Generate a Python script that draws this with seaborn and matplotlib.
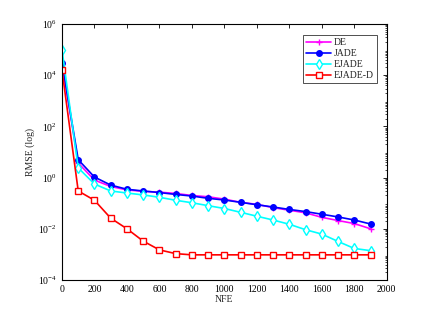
import numpy as np
import pandas as pd
import matplotlib
matplotlib.use("Agg")
import matplotlib.pyplot as plt
import seaborn as sns
from matplotlib.ticker import LogLocator, NullFormatter, FixedLocator

nfe = [0, 100, 200, 300, 400, 500, 600, 700, 800, 900, 1000, 1100, 1200, 1300, 1400, 1500, 1600, 1700, 1800, 1900]
de = [3.0e4, 3.7, 0.8, 0.45, 0.33, 0.29, 0.27, 0.24, 0.20, 0.178, 0.144, 0.108, 0.09, 0.067, 0.053, 0.042, 0.028, 0.021, 0.016, 0.010]
jade = [3.0e4, 5.0, 1.05, 0.51, 0.35, 0.30, 0.26, 0.22, 0.19, 0.155, 0.133, 0.108, 0.087, 0.071, 0.057, 0.047, 0.037, 0.029, 0.022, 0.0154]
ejade = [1.0e5, 2.4, 0.56, 0.30, 0.25, 0.21, 0.17, 0.13, 0.104, 0.08, 0.062, 0.044, 0.031, 0.022, 0.015, 0.0092, 0.0062, 0.0032, 0.0017, 0.0014]
ejaded = [1.6e4, 0.30, 0.13, 0.026, 0.010, 0.0033, 0.0015, 0.00107, 0.00096, 0.00096, 0.00096, 0.00096, 0.00096, 0.00096, 0.00096, 0.00096, 0.00096, 0.00096, 0.00096, 0.00096]
names = ["DE", "JADE", "EJADE", "EJADE-D"]
xticks = [0, 200, 400, 600, 800, 1000, 1200, 1400, 1600, 1800, 2000]

sns.set_style("white")
plt.rcParams["font.family"] = ["Liberation Serif", "DejaVu Serif"]
plt.rcParams["mathtext.fontset"] = "stix"

fig = plt.figure(figsize=(4.26, 3.10), dpi=100)
ax = fig.add_axes([0.1455, 0.0968, 0.7625, 0.8258])

styles = [
    dict(color="#ff00ff", marker="+", mfc="#ff00ff", ms=5, mew=1.0),
    dict(color="#0000ff", marker="o", mfc="#0000ff", ms=4, mew=1.0),
    dict(color="#00ffff", marker="d", mfc="white", ms=5, mew=1.0),
    dict(color="#ff0000", marker="s", mfc="white", ms=4, mew=1.0),
]
for name, vals, st in zip(names, [de, jade, ejade, ejaded], styles):
    df = pd.DataFrame({"NFE": nfe, "RMSE": vals})
    sns.lineplot(data=df, x="NFE", y="RMSE", ax=ax, color=st["color"], marker=st["marker"],
                 markerfacecolor=st["mfc"], markeredgecolor=st["color"], markersize=st["ms"],
                 markeredgewidth=st["mew"], linewidth=1.2, label=name)

ax.set_yscale("log")
ax.set_xlim(0, 2000)
ax.set_ylim(1e-4, 1e6)
ax.xaxis.set_major_locator(FixedLocator(xticks))
ax.yaxis.set_major_locator(FixedLocator([1e-4, 1e-2, 1e0, 1e2, 1e4, 1e6]))
ax.yaxis.set_minor_locator(LogLocator(base=10, subs=np.arange(2, 10), numticks=20))
ax.yaxis.set_minor_formatter(NullFormatter())
ax.tick_params(axis="both", which="both", direction="in", top=True, right=True, labelsize=7, colors="black")
ax.tick_params(axis="both", which="major", length=3, width=0.6)
ax.tick_params(axis="y", which="minor", length=1.5, width=0.5)
for sp in ax.spines.values():
    sp.set_color("black")
    sp.set_linewidth(0.8)
ax.set_xlabel("NFE", fontsize=7, labelpad=1)
ax.set_ylabel("RMSE (log)", fontsize=7, labelpad=2)
leg = ax.legend(loc="upper right", fontsize=7, frameon=True, fancybox=False, edgecolor="black",
                handlelength=2.6, borderpad=0.3, labelspacing=0.2, handletextpad=0.3,
                bbox_to_anchor=(0.985, 0.975))
leg.get_frame().set_linewidth(0.6)
fig.savefig("out.png", dpi=100, facecolor="white")
